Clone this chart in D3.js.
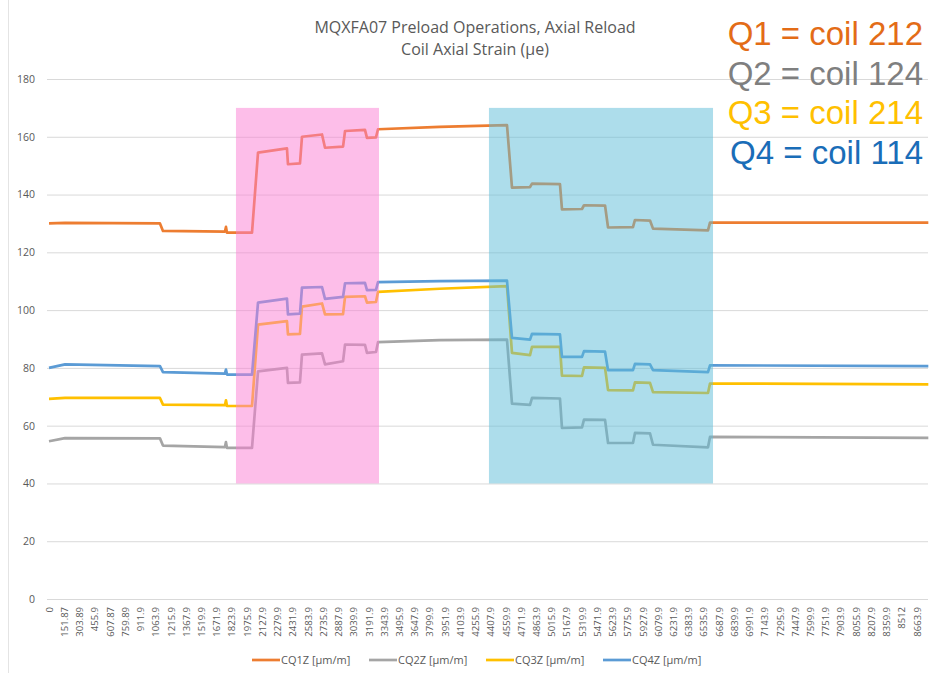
<!DOCTYPE html>
<html>
<head>
<meta charset="utf-8">
<script src="https://cdn.jsdelivr.net/npm/d3@7"></script>
<style>
  body { margin: 0; background: #fff; }
  svg { display: block; font-family: "Open Sans", sans-serif; }
</style>
</head>
<body>
<svg id="chart" width="930" height="673"></svg>
<script>
// breakpoints in time (s), shared by all four gauges
const times = [0, 160, 1108, 1138, 1757, 1767, 1777, 2027, 2087, 2376, 2386, 2506, 2526, 2726, 2756,
  2936, 2956, 3155, 3175, 3265, 3285, 3900, 4573, 4623, 4803, 4823, 5102, 5122, 5322, 5342,
  5552, 5582, 5831, 5851, 6001, 6031, 6580, 6600, 8780];

const cq1 = [130.0, 130.2, 130.0, 127.4, 127.2, 128.8, 126.8, 126.8, 154.5, 156.0, 150.5, 150.8, 160.0, 160.8, 156.2,
  156.6, 162.0, 162.4, 159.6, 159.8, 162.6, 163.4, 164.0, 142.4, 142.6, 143.8, 143.6, 134.9, 135.0, 136.3,
  136.2, 128.6, 128.7, 131.2, 131.0, 128.2, 127.6, 130.3, 130.3];
const cq2 = [54.6, 55.7, 55.6, 53.1, 52.6, 54.3, 52.3, 52.3, 78.8, 80.0, 74.8, 75.0, 84.6, 85.0, 81.2,
  82.3, 88.1, 88.0, 85.2, 85.5, 88.9, 89.6, 89.8, 67.6, 67.2, 69.6, 69.4, 59.2, 59.4, 62.1,
  62.0, 54.0, 54.0, 57.5, 57.3, 53.4, 52.5, 56.1, 55.8];
const cq3 = [69.3, 69.6, 69.6, 67.3, 67.1, 68.8, 66.8, 66.8, 95.0, 96.2, 91.6, 91.8, 101.2, 102.3, 98.5,
  98.6, 104.6, 104.8, 102.6, 102.8, 106.3, 107.4, 108.3, 85.2, 84.4, 87.3, 87.3, 77.3, 77.2, 80.2,
  80.0, 72.3, 72.2, 75.0, 74.8, 71.6, 71.3, 74.6, 74.3];
const cq4 = [80.0, 81.2, 80.6, 78.5, 78.0, 79.4, 77.7, 77.7, 102.6, 104.0, 98.5, 98.8, 107.8, 108.0, 103.9,
  104.6, 109.3, 109.4, 106.9, 107.0, 109.7, 110.0, 110.2, 90.4, 89.8, 91.8, 91.6, 83.8, 83.8, 85.8,
  85.6, 79.2, 79.2, 81.4, 81.2, 79.2, 78.5, 80.9, 80.6];

const seriesNames = ["CQ1Z [µm/m]", "CQ2Z [µm/m]", "CQ3Z [µm/m]", "CQ4Z [µm/m]"];
const seriesColors = ["#ED7D31", "#A5A5A5", "#FFC000", "#5B9BD5"];

const yTicks = [0, 20, 40, 60, 80, 100, 120, 140, 160, 180];
const xTickLabels = ["0", "151.87", "303.89", "455.9", "607.87", "759.89", "911.9", "1063.9", "1215.9",
  "1367.9", "1519.9", "1671.9", "1823.9", "1975.9", "2127.9", "2279.9", "2431.9", "2583.9", "2735.9",
  "2887.9", "3039.9", "3191.9", "3343.9", "3495.9", "3647.9", "3799.9", "3951.9", "4103.9", "4255.9",
  "4407.9", "4559.9", "4711.9", "4863.9", "5015.9", "5167.9", "5319.9", "5471.9", "5623.9", "5775.9",
  "5927.9", "6079.9", "6231.9", "6383.9", "6535.9", "6687.9", "6839.9", "6991.9", "7143.9", "7295.9",
  "7447.9", "7599.9", "7751.9", "7903.9", "8055.9", "8207.9", "8359.9", "8512", "8663.9"];

// shaded operation phases (preload / unload)
const bandStart = [1867, 4393];
const bandEnd = [3295, 6630];
const bandColors = ["#FB7DD3", "#5BBBD7"];
const bandLow = 40, bandHigh = 170;

const coilLabels = ["Q1 = coil 212", "Q2 = coil 124", "Q3 = coil 214", "Q4 = coil 114"];
const coilColors = ["#E36C17", "#7F7F7F", "#FFC000", "#1A6DB8"];

const titleLines = ["MQXFA07 Preload Operations, Axial Reload", "Coil Axial Strain (µe)"];

const svg = d3.select("#chart");
const plotLeft = 47, plotRight = 928;

const x = d3.scaleLinear().domain([0, 8663.9]).range([49, 916.7]);
const y = d3.scaleLinear().domain([0, 180]).range([599, 79]);

// faint chart-area edge
svg.append("line")
  .attr("x1", 8.5).attr("x2", 8.5).attr("y1", 0).attr("y2", 673)
  .attr("stroke", "#E4E4E4");

// y axis + gridlines
const yAxis = svg.append("g")
  .attr("transform", "translate(" + plotLeft + ",0)")
  .call(d3.axisLeft(y).tickValues(yTicks).tickSize(-(plotRight - plotLeft)).tickPadding(12));
yAxis.select(".domain").remove();
yAxis.selectAll("line").attr("stroke", "#D9D9D9");
yAxis.selectAll("text")
  .attr("fill", "#595959")
  .style("font-size", "10.5px")
  .style("font-family", "'Open Sans', sans-serif");

// series
const allSeries = [cq1, cq2, cq3, cq4];
const line = d3.line()
  .x((d, i) => x(times[i]))
  .y(d => y(d));

svg.append("g").selectAll("path")
  .data(allSeries)
  .enter()
  .append("path")
  .attr("d", line)
  .attr("fill", "none")
  .attr("stroke", (d, i) => seriesColors[i])
  .attr("stroke-width", 2.7)
  .attr("stroke-linejoin", "round");

// translucent bands on top of the lines
svg.append("g").selectAll("rect")
  .data(bandStart)
  .enter()
  .append("rect")
  .attr("x", d => x(d))
  .attr("width", (d, i) => x(bandEnd[i]) - x(d))
  .attr("y", y(bandHigh))
  .attr("height", y(bandLow) - y(bandHigh))
  .attr("fill", (d, i) => bandColors[i])
  .attr("fill-opacity", 0.5);

// x axis labels
const xAxis = svg.append("g")
  .attr("transform", "translate(0," + y(0) + ")")
  .call(d3.axisBottom(x)
    .tickValues(xTickLabels.map(Number))
    .tickFormat((d, i) => xTickLabels[i])
    .tickSize(0));
xAxis.select(".domain").remove();
xAxis.selectAll("text")
  .attr("transform", "rotate(-90)")
  .attr("text-anchor", "end")
  .attr("x", -8)
  .attr("y", 0)
  .attr("dy", "0.35em")
  .attr("fill", "#595959")
  .style("font-size", "9.5px")
  .style("font-family", "'Open Sans', sans-serif");

// legend
const legend = svg.append("g").selectAll("g")
  .data(seriesNames)
  .enter()
  .append("g")
  .attr("transform", (d, i) => "translate(" + (252 + i * 117) + ",660)");
legend.append("line")
  .attr("x1", 0).attr("x2", 28)
  .attr("stroke", (d, i) => seriesColors[i])
  .attr("stroke-width", 2.7);
legend.append("text")
  .attr("x", 29)
  .attr("dy", "0.35em")
  .attr("fill", "#595959")
  .style("font-size", "11px")
  .text(d => d);

// title
svg.append("g").selectAll("text")
  .data(titleLines)
  .enter()
  .append("text")
  .attr("x", 475)
  .attr("y", (d, i) => 33 + i * 22)
  .attr("text-anchor", "middle")
  .attr("fill", "#595959")
  .style("font-size", "16px")
  .text(d => d);

// coil annotations
svg.append("g").selectAll("text")
  .data(coilLabels)
  .enter()
  .append("text")
  .attr("x", 923)
  .attr("y", (d, i) => 45 + i * 39.5)
  .attr("text-anchor", "end")
  .attr("fill", (d, i) => coilColors[i])
  .style("font-family", "'Liberation Sans', Arial, sans-serif")
  .style("font-size", "33px")
  .text(d => d);
</script>
</body>
</html>
